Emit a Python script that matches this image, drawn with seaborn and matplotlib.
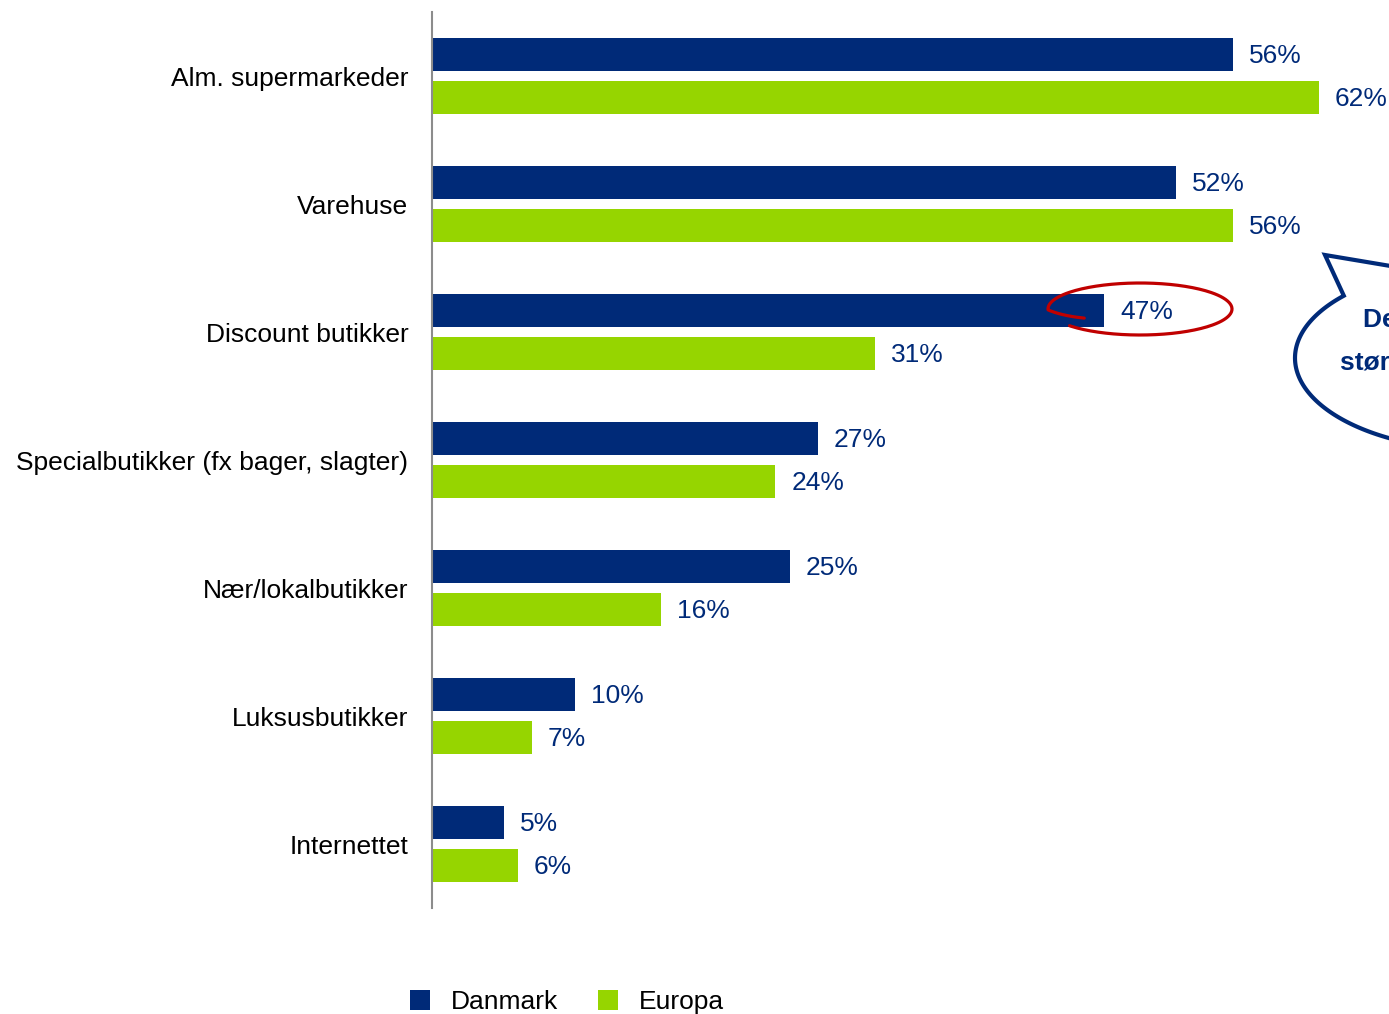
import numpy as np
import pandas as pd
import matplotlib
matplotlib.use("Agg")
import matplotlib.pyplot as plt
import matplotlib.transforms as mtransforms
from matplotlib.patches import Patch, PathPatch
from matplotlib.path import Path
import seaborn as sns

# --- data -----------------------------------------------------------------
categories = [
    "Alm. supermarkeder",
    "Varehuse",
    "Discount butikker",
    "Specialbutikker (fx bager, slagter)",
    "Nær/lokalbutikker",
    "Luksusbutikker",
    "Internettet",
]
danmark = [56, 52, 47, 27, 25, 10, 5]
europa = [62, 56, 31, 24, 16, 7, 6]
series_names = ["Danmark", "Europa"]

NAVY = "#002A78"
GREEN = "#96D500"

df = pd.DataFrame({
    "kategori": categories * 2,
    "andel": danmark + europa,
    "serie": [series_names[0]] * len(categories) + [series_names[1]] * len(categories),
})

# --- figure ---------------------------------------------------------------
W, H = 1389, 1014
sns.set_theme(style="white")
plt.rcParams["font.family"] = ["Liberation Sans", "DejaVu Sans"]
FS = 19

fig = plt.figure(figsize=(W / 100, H / 100), dpi=100)
ax = fig.add_axes([432 / W, 106 / H, (W - 432) / W, 896 / H])

sns.barplot(
    data=df, x="andel", y="kategori", hue="serie", orient="h",
    hue_order=series_names, palette={"Danmark": NAVY, "Europa": GREEN},
    width=0.67, gap=0.21, legend=False, ax=ax, saturation=1, linewidth=0,
    errorbar=None,
)

ax.set_xlim(0, (W - 432) / 14.3)
ax.set_ylim(6.5, -0.5)
ax.set_xlabel("")
ax.set_ylabel("")
ax.xaxis.set_visible(False)
ax.tick_params(axis="y", length=0, pad=17, labelsize=FS, labelcolor="black")
for lbl in ax.get_yticklabels():
    lbl.set_verticalalignment("center_baseline")
for side in ["top", "right", "bottom"]:
    ax.spines[side].set_visible(False)
ax.spines["left"].set_color("#8C8C8C")
ax.spines["left"].set_linewidth(1.5)

# value labels at the end of each bar
for container in ax.containers:
    for bar in container:
        w = bar.get_width()
        ax.annotate(
            f"{w:.0f}%", xy=(w, bar.get_y() + bar.get_height() / 2),
            xytext=(11.5, -1.2), textcoords="offset points",
            ha="left", va="center", fontsize=FS, color=NAVY,
            annotation_clip=False,
        )

# legend
handles = [Patch(facecolor=NAVY, edgecolor="none"), Patch(facecolor=GREEN, edgecolor="none")]
leg = fig.legend(
    handles, series_names, loc="center", bbox_to_anchor=(567 / W, 1 - 1002 / H),
    ncol=2, frameon=False, fontsize=FS, handlelength=0.76, handleheight=0.76,
    handletextpad=0.8, columnspacing=1.5,
)
for txt in leg.get_texts():
    txt.set_color("black")

# pixel coordinates (origin top-left) for the annotation shapes
px = mtransforms.Affine2D().scale(1 / W, -1 / H).translate(0, 1) + fig.transFigure

# hand-drawn red loop around the Discount value
cx, cy, rx, ry = 1140, 309, 92, 26
phi = np.radians(np.linspace(150, 500, 200))
grow = 0.7 + 0.3 * np.clip((np.degrees(phi) - 150) / 28, 0, 1)
loop_x = cx + rx * grow * np.cos(phi)
loop_y = cy + ry * grow * np.sin(phi)
fig.add_artist(plt.Line2D(loop_x, loop_y, color="#C00000", lw=2.3,
                          transform=px, solid_capstyle="round"))

# speech bubble on the right edge
bx, by, brx, bry = 1480, 358, 185, 92
t1, t2 = np.radians(137.4), np.radians(108.9 + 360)
# arc in screen orientation: y grows downward, so flip the sine
tt = np.linspace(t1, t2, 300)
arc = np.column_stack([bx + brx * np.cos(tt), by - bry * np.sin(tt)])
verts = np.vstack([arc, [[1325, 255]], arc[:1]])
codes = [Path.MOVETO] + [Path.LINETO] * (len(verts) - 2) + [Path.CLOSEPOLY]
bubble = PathPatch(Path(verts, codes), facecolor="white", edgecolor=NAVY,
                   lw=3, transform=px, joinstyle="miter")
fig.add_artist(bubble)
fig.text(1363 / W, 1 - 320 / H, "De danske forbrugere", transform=fig.transFigure,
         fontsize=FS, fontweight="bold", color=NAVY, ha="left", va="center")
fig.text(1340 / W, 1 - 363 / H, "største discountkunder", transform=fig.transFigure,
         fontsize=FS, fontweight="bold", color=NAVY, ha="left", va="center")

fig.savefig("out.png", dpi=100)
